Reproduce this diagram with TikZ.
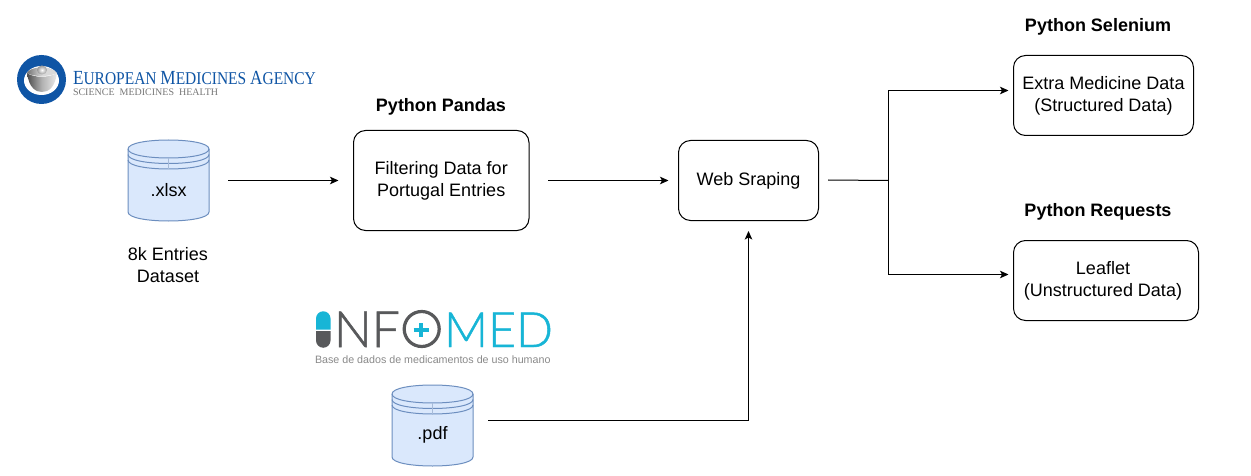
\documentclass[tikz,border=0pt]{standalone}
\usepackage{fontspec}
\usepackage{graphicx}
\setmainfont{Liberation Sans}
\newfontfamily\emafont{Liberation Serif}
\newfontfamily\infofont[UprightFont=* Light,FakeBold=1]{Lato}
\usetikzlibrary{arrows.meta}
\definecolor{dbfill}{HTML}{DAE8FC}
\definecolor{dbline}{HTML}{6C8EBF}
\definecolor{emablue}{HTML}{0F55A5}
\definecolor{emagrey}{HTML}{777777}
\definecolor{infocyan}{HTML}{17B5D6}
\definecolor{infodark}{HTML}{58595B}
\definecolor{infogrey}{HTML}{8A8A8A}
\tikzset{
  x=1pt,y=-1pt,
  every node/.style={font=\fontsize{18}{22}\selectfont,align=center,inner sep=0pt,outer sep=0pt},
  procbox/.style={draw=black,line width=1pt,rounded corners=12pt,fill=white},
  heading/.style={font=\fontsize{18}{22}\selectfont\bfseries},
  flow/.style={draw=black,line width=1pt,-{Stealth[length=8.5pt,width=7.5pt,inset=2pt]}},
  plainflow/.style={draw=black,line width=1pt},
  dbshape/.style={minimum width=81pt,minimum height=81pt},
}
\newcommand{\datastore}[4]{% name, cx, cy, text
  \begin{scope}[shift={(#2,#3)}]
    \draw[fill=dbfill,draw=dbline,line width=1pt]
      (-40.5,-31.5) .. controls (-40.5,-43.5) and (40.5,-43.5) .. (40.5,-31.5)
      -- (40.5,31.5) .. controls (40.5,43.5) and (-40.5,43.5) .. (-40.5,31.5) -- cycle;
    \draw[draw=dbline,line width=1pt]
      (-40.5,-31.5) .. controls (-40.5,-19.5) and (40.5,-19.5) .. (40.5,-31.5)
      (-40.5,-26) .. controls (-40.5,-14) and (40.5,-14) .. (40.5,-26)
      (-40.5,-20.5) .. controls (-40.5,-8.5) and (40.5,-8.5) .. (40.5,-20.5);
    \draw[draw=dbline!60,line width=.5pt] (0,-22.5) -- (0,-11.5);
  \end{scope}
  \node[dbshape] (#1) at (#2,#3) {};
  \node (#1text) at (#2,#3+9.5) {#4};
}
\newcommand{\txtdown}{\vspace*{3.5pt}}
\begin{document}
\begin{tikzpicture}
\useasboundingbox (0,0) rectangle (1251,476);
\fill[white] (0,0) rectangle (1251,476);

% EMA logo
\fill[emablue] (41.5,79.5) circle (24.5);
\fill[white] (41.5,80.5) ellipse (17.5 and 14.5);
\shade[left color=black!70,right color=black!8,middle color=black!30]
  (27,73) .. controls (29,88) and (36,92) .. (42,92) .. controls (49,92) and (55,87) .. (57,73)
  .. controls (50,78) and (33,78) .. (27,73) -- cycle;
\shade[left color=black!55,right color=black!15,middle color=black!15] (27,73) .. controls (30,66) and (52,65) .. (57,73) .. controls (50,77) and (33,77) .. (27,73) -- cycle;
\shade[inner color=white,outer color=black!40] (42,70) ellipse (5 and 4.5);
\node[anchor=base west,text=emablue,font=\emafont\fontsize{20}{20}\selectfont] (emaname) at (73,85)
  {\scalebox{.86}[1]{E\fontsize{18}{20}\selectfont UROPEAN \fontsize{20}{20}\selectfont M\fontsize{18}{20}\selectfont EDICINES \fontsize{20}{20}\selectfont A\fontsize{18}{20}\selectfont GENCY}};
\node[anchor=base west,text=emagrey,font=\emafont\fontsize{10}{12}\selectfont] (emasub) at (73,96)
  {SCIENCE\hspace{5pt}MEDICINES\hspace{5pt}HEALTH};

% Infomed logo
\fill[infodark] (316,331) -- (330.5,331) -- (330.5,340.5) arc[start angle=0,end angle=180,radius=7.25] -- cycle;
\fill[infocyan] (316,329.5) -- (330.5,329.5) -- (330.5,318.5) arc[start angle=0,end angle=-180,radius=7.25] -- cycle;
\node[anchor=base west,text=infodark,font=\infofont\fontsize{50}{50}\selectfont] (infonf) at (334,347) {NF};
\draw[infodark,line width=3.2pt] (421.7,329) circle (17.5);
\draw[infocyan,line width=4pt] (413.5,330) -- (428.5,330) (421,323) -- (421,337);
\node[anchor=base west,text=infocyan,font=\infofont\fontsize{48.5}{50}\selectfont] (infomed) at (444,347) {MED};
\node[anchor=base west,text=infogrey,font=\fontsize{10.7}{12}\selectfont] (infosub) at (315,363)
  {Base de dados de medicamentos de uso humano};

% data stores
\datastore{xlsx}{168.5}{180.5}{.xlsx}
\datastore{pdf}{432.5}{425.5}{.pdf}
\node (dataset) at (168,265.5) {8k Entries\\Dataset};

% process boxes
\node[procbox,minimum width=175.5pt,minimum height=100pt] (filter) at (441.25,180.5) {\txtdown Filtering Data for\\Portugal Entries};
\node[procbox,minimum width=140pt,minimum height=80pt] (web) at (748.5,180.5) {\txtdown Web Sraping};
\node[procbox,minimum width=180pt,minimum height=80pt] (extra) at (1103.5,95.5) {\txtdown Extra Medicine Data\\(Structured Data)};
\node[procbox,minimum width=185pt,minimum height=80pt] (leaflet) at (1106,280.5) {\txtdown Leaflet\hspace*{6pt}\\(Unstructured Data)\hspace*{6pt}};

% headings
\node[heading] (hpandas) at (441,106.8) {Python Pandas};
\node[heading] (hsel) at (1098,26.8) {Python Selenium};
\node[heading] (hreq) at (1098,211.8) {Python Requests};

% junction points
\coordinate (split) at (888.5,180.5);
\coordinate (webout) at (828,180);
\coordinate (extrain) at (1008.5,90.5);
\coordinate (leafin) at (1008.5,274.5);
\coordinate (pdfout) at (488,420.5);
\coordinate (webin) at (748.5,231);

% connectors
\draw[flow,shorten <=19pt,shorten >=15pt] (xlsx.east) -- (filter.west);
\draw[flow,shorten <=19pt,shorten >=10pt] (filter.east) -- (web.west);
\draw[plainflow] (webout) -- (split);
\draw[flow] (split) |- (extrain);
\draw[flow] (split) |- (leafin);
\draw[flow] (pdfout) -| (webin);
\end{tikzpicture}
\end{document}
